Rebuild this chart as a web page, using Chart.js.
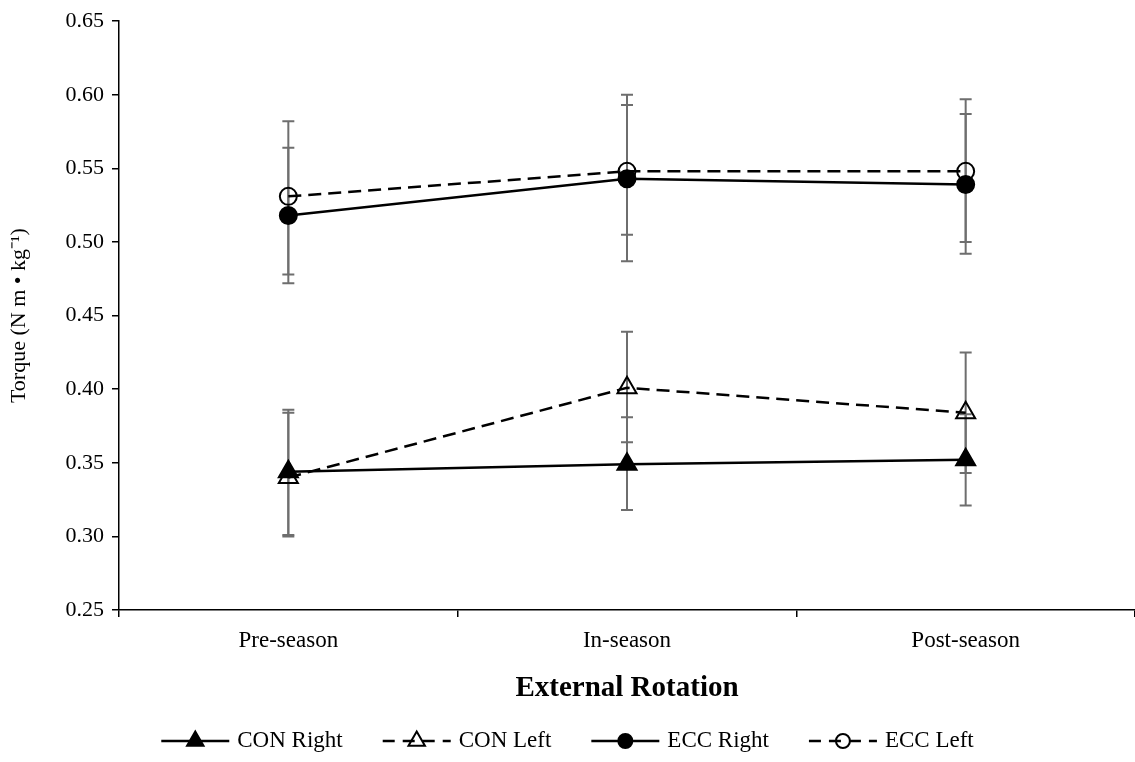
<!DOCTYPE html>
<html lang="en">
<head>
  <meta charset="utf-8">
  <title>External Rotation</title>
  <script src="https://cdn.jsdelivr.net/npm/chart.js@4"></script>
  <style>
    body { margin: 0; background: #fff; }
    #wrap { position: relative; width: 1135px; height: 762px; }
  </style>
</head>
<body>
  <div id="wrap"><canvas id="myChart"></canvas></div>
  <script>
    // data
    var categories = ['Pre-season', 'In-season', 'Post-season'];
    var yTicks = [0.25, 0.30, 0.35, 0.40, 0.45, 0.50, 0.55, 0.60, 0.65];

    var conRight = [0.344, 0.349, 0.352];
    var conLeft = [0.340, 0.401, 0.384];
    var eccRight = [0.518, 0.543, 0.539];
    var eccLeft = [0.531, 0.548, 0.548];

    // error bar ends (upper / lower)
    var conRightHi = [0.386, 0.381, 0.383];
    var conRightLo = [0.300, 0.318, 0.321];
    var conLeftHi = [0.384, 0.439, 0.425];
    var conLeftLo = [0.301, 0.364, 0.343];
    var eccRightHi = [0.564, 0.593, 0.587];
    var eccRightLo = [0.472, 0.487, 0.492];
    var eccLeftHi = [0.582, 0.600, 0.597];
    var eccLeftLo = [0.478, 0.505, 0.500];

    var serif = '"Liberation Serif", "Times New Roman", serif';
    var dash = [13, 7];

    function series(label, data, hi, lo, style, filled, dashed) {
      var r = style === 'triangle' ? 11 : 8.5;
      return {
        label: label,
        data: data,
        errHi: hi,
        errLo: lo,
        borderColor: '#000',
        borderWidth: 2.5,
        borderDash: dashed ? dash : [],
        pointStyle: style,
        pointRadius: r,
        pointHoverRadius: r,
        pointBorderWidth: 2,
        pointBorderColor: '#000',
        pointBackgroundColor: filled ? '#000' : 'rgba(0,0,0,0)',
        fill: false,
        tension: 0
      };
    }

    // error bars, drawn under the lines
    var errorBars = {
      id: 'errorBars',
      beforeDatasetsDraw: function(chart) {
        var ctx = chart.ctx;
        var y = chart.scales.y;
        ctx.save();
        ctx.strokeStyle = '#6e6e6e';
        ctx.lineWidth = 2;
        chart.data.datasets.forEach(function(ds, i) {
          var meta = chart.getDatasetMeta(i);
          meta.data.forEach(function(pt, j) {
            var yh = y.getPixelForValue(ds.errHi[j]);
            var yl = y.getPixelForValue(ds.errLo[j]);
            ctx.beginPath();
            ctx.moveTo(pt.x, yh); ctx.lineTo(pt.x, yl);
            ctx.moveTo(pt.x - 6, yh); ctx.lineTo(pt.x + 6, yh);
            ctx.moveTo(pt.x - 6, yl); ctx.lineTo(pt.x + 6, yl);
            ctx.stroke();
          });
        });
        ctx.restore();
      }
    };

    // legend with line + marker like the original
    var lineLegend = {
      id: 'lineLegend',
      afterDraw: function(chart) {
        var ctx = chart.ctx;
        var lineLen = 68, gap = 8, itemGap = 40, yMid = 741;
        ctx.save();
        ctx.font = '23px ' + serif;
        ctx.textBaseline = 'middle';
        var total = 0;
        chart.data.datasets.forEach(function(ds, i) {
          total += lineLen + gap + ctx.measureText(ds.label).width + (i > 0 ? itemGap : 0);
        });
        var x = (chart.width - total) / 2;
        chart.data.datasets.forEach(function(ds, i) {
          if (i > 0) x += itemGap;
          ctx.strokeStyle = '#000';
          ctx.lineWidth = 2.5;
          ctx.setLineDash(ds.borderDash.length ? [12, 8] : []);
          ctx.beginPath();
          ctx.moveTo(x, yMid); ctx.lineTo(x + lineLen, yMid);
          ctx.stroke();
          ctx.setLineDash([]);
          ctx.fillStyle = ds.pointBackgroundColor;
          ctx.strokeStyle = '#000';
          ctx.lineWidth = 2;
          Chart.helpers.drawPoint(ctx, {
            pointStyle: ds.pointStyle,
            radius: ds.pointRadius - 1.5,
            borderWidth: 2
          }, x + lineLen / 2, yMid);
          ctx.fillStyle = '#000';
          ctx.fillText(ds.label, x + lineLen + gap, yMid);
          x += lineLen + gap + ctx.measureText(ds.label).width;
        });
        ctx.restore();
      }
    };

    var ctx = document.getElementById('myChart');
    var myChart = new Chart(ctx, {
      type: 'line',
      data: {
        labels: categories,
        datasets: [
          series('CON Right', conRight, conRightHi, conRightLo, 'triangle', true, false),
          series('CON Left', conLeft, conLeftHi, conLeftLo, 'triangle', false, true),
          series('ECC Right', eccRight, eccRightHi, eccRightLo, 'circle', true, false),
          series('ECC Left', eccLeft, eccLeftHi, eccLeftLo, 'circle', false, true)
        ]
      },
      options: {
        responsive: true,
        maintainAspectRatio: false,
        animation: false,
        events: [],
        layout: { autoPadding: false, padding: { top: 18, right: 0, bottom: 56, left: 0 } },
        plugins: {
          legend: { display: false },
          tooltip: { enabled: false }
        },
        scales: {
          x: {
            type: 'category',
            offset: true,
            grid: { offset: true, drawOnChartArea: false, color: '#000', lineWidth: 1.5, tickLength: 7 },
            border: { color: '#000', width: 1.5 },
            ticks: { color: '#000', font: { family: serif, size: 23 }, padding: 10, maxRotation: 0 },
            title: {
              display: true,
              text: 'External Rotation',
              color: '#000',
              font: { family: serif, size: 29, weight: 'bold' },
              padding: { top: 3, bottom: 0 }
            },
            afterFit: function(scale) {
              scale.paddingLeft = 0;
              scale.paddingRight = 0;
              scale.height = 96;
            }
          },
          y: {
            min: 0.25,
            max: 0.65,
            afterBuildTicks: function(scale) {
              scale.ticks = yTicks.map(function(v) { return { value: v }; });
            },
            grid: { drawOnChartArea: false, color: '#000', lineWidth: 1.5, tickLength: 7 },
            border: { color: '#000', width: 1.5 },
            ticks: {
              color: '#000',
              font: { family: serif, size: 22 },
              padding: 8,
              callback: function(v) { return Number(v).toFixed(2); }
            },
            title: {
              display: true,
              text: 'Torque (N m \u2022 kg\u207B\u00B9)',
              color: '#000',
              font: { family: serif, size: 22 },
              padding: { top: 6, bottom: 10 }
            },
            afterFit: function(scale) { scale.width = 119; }
          }
        }
      },
      plugins: [errorBars, lineLegend]
    });
  </script>
</body>
</html>
